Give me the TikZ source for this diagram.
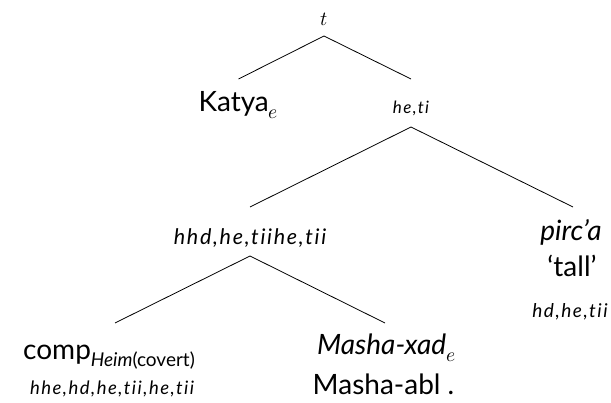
\documentclass[tikz,border=0pt]{standalone}
\usepackage{fontspec}
\usepackage{unicode-math}
\setmainfont{Lato}
\setmathfont{Latin Modern Math}
\newfontfamily\tyf{Lato}[LetterSpace=8, Ligatures={NoCommon,NoRare,NoContextual}]
\begin{document}
\begin{tikzpicture}[x=1pt,y=-1pt,
  lbl/.style={anchor=base, inner sep=0pt, font=\fontsize{28}{32}\selectfont},
  ty/.style={anchor=base, inner sep=0pt, font=\tyf\itshape\fontsize{19}{22}\selectfont},
  edge/.style={line width=0.8pt}]
\useasboundingbox (0,0) rectangle (611,403);
% labels
\node[anchor=base, inner sep=0pt, font=\fontsize{20}{24}\selectfont] (t) at (324,26) {$t$};
\node[lbl] (katya) at (238.5,112) {Katya$_e$};
\node[ty, font=\tyf\itshape\fontsize{17}{20}\selectfont] (et) at (411,114) {he,ti};
\node[ty, font=\tyf\itshape\fontsize{21.5}{24}\selectfont] (hhd) at (250,245) {hhd,he,tiihe,tii};
\node[lbl, font=\itshape\fontsize{28}{32}\selectfont] (pirca) at (571,241) {pirc’a};
\node[lbl] (tall) at (572,277) {‘tall’};
\node[ty] (pircty) at (570,318) {hd,he,tii};
\node[lbl] (comp) at (109,360) {comp\raisebox{-7pt}{\fontsize{19}{23}\selectfont\itshape Heim\upshape(covert)}};
\node[ty, font=\tyf\itshape\fontsize{18.5}{22}\selectfont] (compty) at (112,395) {hhe,hd,he,tii,he,tii};
\node[lbl, font=\itshape\fontsize{28}{32}\selectfont] (masha) at (386.5,355) {Masha-xad$_e$};
\node[lbl] (mashaabl) at (383.5,395) {Masha-abl .};
% edges
\draw[edge] ([yshift=-10pt]t.base) -- ([yshift=33pt]katya.base);
\draw[edge] ([yshift=-10pt]t.base) -- ([yshift=35pt]et.base);
\draw[edge] ([yshift=-13pt]et.base) -- ([yshift=38pt]hhd.base);
\draw[edge] ([yshift=-13pt]et.base) -- ([xshift=2pt,yshift=34pt]pirca.base);
\draw[edge] ([yshift=-11pt]hhd.base) -- ([xshift=6pt,yshift=37pt]comp.base);
\draw[edge] ([yshift=-11pt]hhd.base) -- ([xshift=-1.5pt,yshift=32pt]masha.base);
\end{tikzpicture}
\end{document}
